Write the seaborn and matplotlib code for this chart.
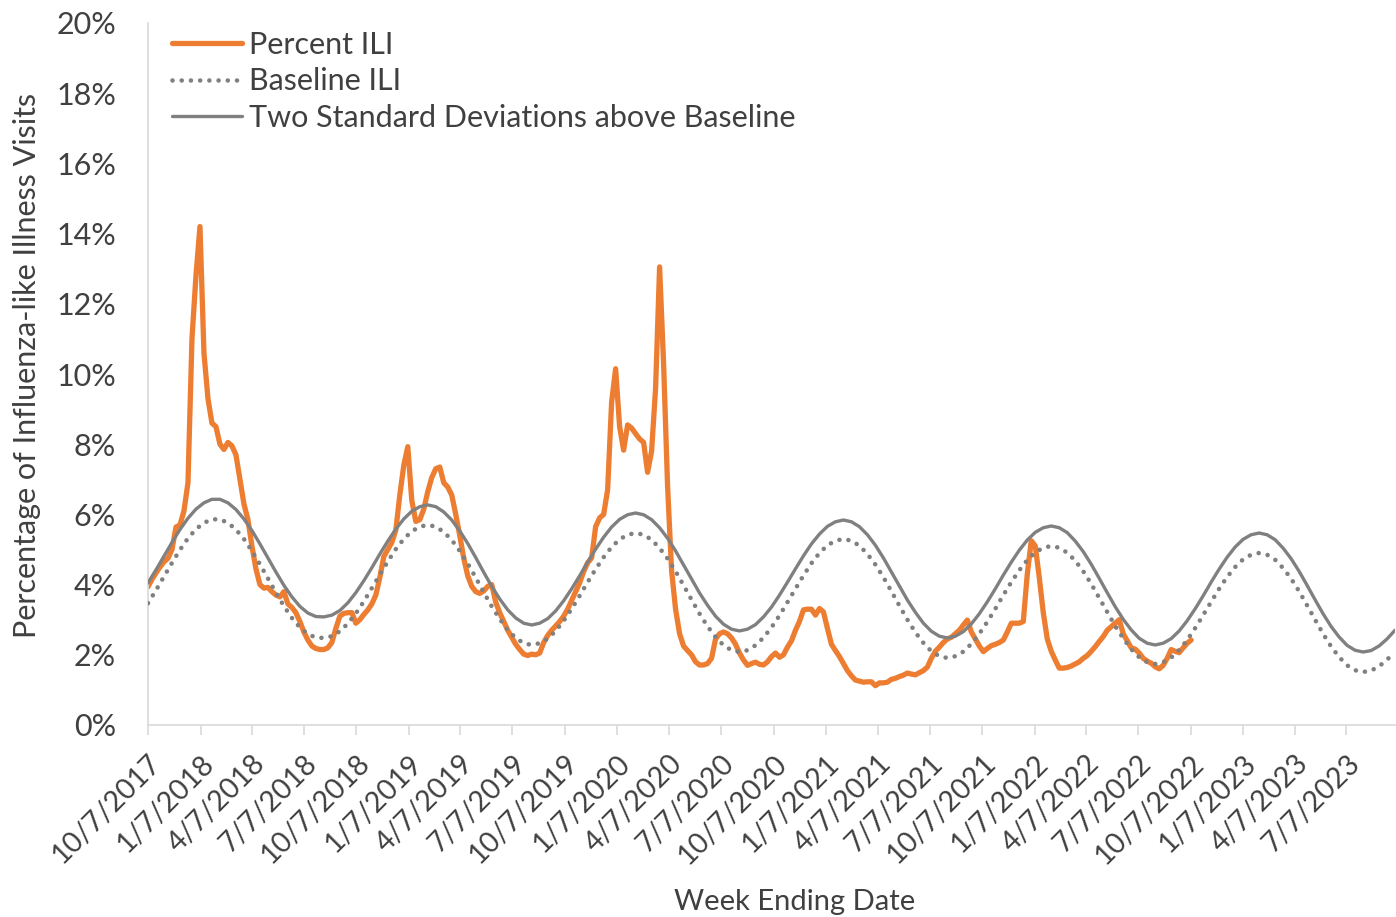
import matplotlib
matplotlib.use("Agg")
import matplotlib.pyplot as plt
import matplotlib.dates as mdates
import matplotlib.ticker as mticker
import pandas as pd
import seaborn as sns

# Weekly percent of visits for influenza-like illness (week ending dates from 10/7/2017)
percent_ili = [
    3.94, 4.15, 4.33, 4.50, 4.65, 4.75, 5.00, 5.64, 5.70, 6.10,
    6.90, 11.00, 12.80, 14.20, 10.60, 9.30, 8.60, 8.50, 8.00, 7.85,
    8.05, 7.95, 7.70, 7.00, 6.30, 5.85, 5.10, 4.45, 4.00, 3.90,
    3.92, 3.80, 3.70, 3.65, 3.80, 3.45, 3.35, 3.20, 2.95, 2.65,
    2.42, 2.25, 2.18, 2.15, 2.15, 2.20, 2.35, 2.75, 3.10, 3.18,
    3.20, 3.20, 2.90, 3.00, 3.15, 3.28, 3.45, 3.70, 4.20, 4.80,
    5.00, 5.20, 5.55, 6.55, 7.40, 7.93, 6.40, 5.80, 5.85, 6.15,
    6.65, 7.05, 7.30, 7.35, 6.90, 6.78, 6.55, 6.00, 5.40, 4.75,
    4.25, 3.95, 3.80, 3.75, 3.82, 3.95, 4.00, 3.50, 3.20, 2.95,
    2.70, 2.50, 2.30, 2.15, 2.02, 1.98, 2.02, 2.00, 2.05, 2.35,
    2.55, 2.70, 2.82, 2.95, 3.10, 3.30, 3.55, 3.80, 4.05, 4.37,
    4.62, 4.76, 5.65, 5.90, 6.00, 6.70, 9.20, 10.15, 8.50, 7.83,
    8.55, 8.46, 8.30, 8.15, 8.05, 7.20, 7.80, 9.60, 13.05, 10.30,
    6.80, 4.40, 3.30, 2.60, 2.25, 2.12, 2.00, 1.80, 1.71, 1.71,
    1.75, 1.90, 2.45, 2.60, 2.65, 2.60, 2.48, 2.30, 2.05, 1.85,
    1.70, 1.75, 1.79, 1.73, 1.71, 1.80, 1.95, 2.05, 1.93, 2.00,
    2.22, 2.40, 2.70, 2.95, 3.28, 3.30, 3.30, 3.13, 3.32, 3.22,
    2.75, 2.30, 2.12, 1.95, 1.75, 1.55, 1.40, 1.28, 1.25, 1.22,
    1.23, 1.23, 1.12, 1.20, 1.20, 1.22, 1.30, 1.33, 1.38, 1.42,
    1.48, 1.45, 1.43, 1.49, 1.55, 1.65, 1.90, 2.10, 2.22, 2.35,
    2.45, 2.50, 2.60, 2.70, 2.85, 2.99, 2.65, 2.45, 2.25, 2.09,
    2.18, 2.26, 2.30, 2.35, 2.42, 2.65, 2.90, 2.90, 2.90, 2.95,
    4.30, 5.25, 5.10, 4.20, 3.20, 2.45, 2.10, 1.85, 1.62, 1.62,
    1.64, 1.68, 1.74, 1.80, 1.90, 1.98, 2.10, 2.23, 2.38, 2.52,
    2.70, 2.80, 2.90, 3.00, 2.60, 2.40, 2.20, 2.16, 2.05, 1.90,
    1.82, 1.76, 1.66, 1.60, 1.70, 1.90, 2.15, 2.10, 2.06, 2.20,
    2.33, 2.42,
]

# Seasonal baseline, every second week from 10/7/2017 to 9/30/2023
baseline_ili = [
    3.47, 3.84, 4.23, 4.62, 4.99, 5.32, 5.58, 5.76, 5.86, 5.86,
    5.76, 5.57, 5.30, 4.96, 4.58, 4.18, 3.77, 3.39, 3.05, 2.78,
    2.59, 2.49, 2.48, 2.53, 2.67, 2.89, 3.18, 3.52, 3.90, 4.28,
    4.66, 5.01, 5.30, 5.52, 5.65, 5.70, 5.65, 5.50, 5.27, 4.96,
    4.60, 4.20, 3.78, 3.38, 3.02, 2.71, 2.48, 2.33, 2.28, 2.33,
    2.46, 2.68, 2.97, 3.31, 3.68, 4.07, 4.44, 4.78, 5.07, 5.29,
    5.42, 5.47, 5.42, 5.28, 5.04, 4.74, 4.38, 3.98, 3.57, 3.17,
    2.81, 2.51, 2.27, 2.13, 2.08, 2.13, 2.27, 2.49, 2.78, 3.12,
    3.50, 3.88, 4.26, 4.61, 4.90, 5.12, 5.25, 5.30, 5.25, 5.11,
    4.87, 4.57, 4.21, 3.81, 3.40, 3.00, 2.64, 2.34, 2.10, 1.96,
    1.91, 1.96, 2.09, 2.31, 2.60, 2.94, 3.31, 3.70, 4.07, 4.41,
    4.70, 4.92, 5.05, 5.10, 5.05, 4.91, 4.68, 4.38, 4.02, 3.62,
    3.22, 2.82, 2.47, 2.16, 1.93, 1.79, 1.74, 1.79, 1.92, 2.14,
    2.42, 2.76, 3.13, 3.51, 3.88, 4.22, 4.50, 4.72, 4.85, 4.90,
    4.85, 4.71, 4.47, 4.17, 3.81, 3.41, 3.00, 2.60, 2.24, 1.94,
    1.70, 1.56, 1.51, 1.55, 1.67, 1.86, 2.08,
]

# Epidemic threshold: two standard deviations above the baseline
two_sd_threshold = [
    4.05, 4.42, 4.81, 5.20, 5.57, 5.89, 6.15, 6.33, 6.43, 6.43,
    6.33, 6.14, 5.87, 5.54, 5.16, 4.76, 4.36, 3.98, 3.65, 3.38,
    3.19, 3.09, 3.08, 3.13, 3.26, 3.48, 3.77, 4.11, 4.48, 4.87,
    5.24, 5.58, 5.87, 6.09, 6.22, 6.27, 6.22, 6.07, 5.84, 5.53,
    5.17, 4.77, 4.35, 3.95, 3.59, 3.28, 3.05, 2.90, 2.85, 2.90,
    3.03, 3.25, 3.54, 3.88, 4.25, 4.64, 5.01, 5.35, 5.64, 5.86,
    5.99, 6.04, 5.99, 5.85, 5.62, 5.32, 4.96, 4.56, 4.16, 3.76,
    3.41, 3.10, 2.87, 2.73, 2.68, 2.73, 2.86, 3.08, 3.36, 3.70,
    4.07, 4.45, 4.82, 5.16, 5.44, 5.66, 5.79, 5.84, 5.79, 5.65,
    5.42, 5.12, 4.76, 4.36, 3.96, 3.56, 3.21, 2.90, 2.67, 2.53,
    2.48, 2.53, 2.66, 2.88, 3.17, 3.51, 3.88, 4.27, 4.64, 4.98,
    5.27, 5.49, 5.62, 5.67, 5.62, 5.48, 5.24, 4.94, 4.58, 4.18,
    3.77, 3.37, 3.01, 2.71, 2.47, 2.33, 2.28, 2.33, 2.46, 2.68,
    2.97, 3.31, 3.68, 4.07, 4.44, 4.78, 5.07, 5.29, 5.42, 5.47,
    5.42, 5.28, 5.04, 4.74, 4.38, 3.98, 3.57, 3.17, 2.81, 2.51,
    2.27, 2.13, 2.08, 2.12, 2.25, 2.45, 2.70,
]

y_ticks = list(range(0, 21, 2))
x_start, x_end = "2017-10-07", "2023-09-30"

ORANGE = "#ED7D31"
GRAY = "#808080"
TEXT = "#404040"
AXIS = "#D9D9D9"
FS = 22

ili_df = pd.DataFrame({
    "week": pd.date_range(x_start, periods=len(percent_ili), freq="7D"),
    "pct": percent_ili,
})
base_df = pd.DataFrame({
    "week": pd.date_range(x_start, periods=len(baseline_ili), freq="14D"),
    "baseline": baseline_ili,
    "threshold": two_sd_threshold,
})

sns.set_theme(style="white")
plt.rcParams["font.family"] = ["Lato", "DejaVu Sans"]

fig = plt.figure(figsize=(13.96, 9.17), dpi=100)
ax = fig.add_axes([148 / 1396, 1 - 725 / 917, (1395 - 148) / 1396, (725 - 23) / 917])

sns.lineplot(data=ili_df, x="week", y="pct", ax=ax, color=ORANGE, linewidth=3.8,
             label="Percent ILI", zorder=2, solid_capstyle="round", solid_joinstyle="round")
sns.lineplot(data=base_df, x="week", y="baseline", ax=ax, color=GRAY, linewidth=3.3,
             linestyle=(0, (0.01, 2.0)), dash_capstyle="round",
             label="Baseline ILI", zorder=3)
sns.lineplot(data=base_df, x="week", y="threshold", ax=ax, color=GRAY, linewidth=2.4,
             label="Two Standard Deviations above Baseline", zorder=4)

ax.set_xlim(pd.Timestamp(x_start), pd.Timestamp(x_end))
ax.set_ylim(0, 20)
ax.set_yticks(y_ticks)
ax.yaxis.set_major_formatter(mticker.FuncFormatter(lambda v, p: f"{v:.0f}%"))

ax.xaxis.set_major_locator(mdates.MonthLocator(bymonth=[1, 4, 7, 10], bymonthday=7))
ax.xaxis.set_major_formatter(mticker.FuncFormatter(
    lambda v, p: (lambda d: f"{d.month}/{d.day}/{d.year}")(mdates.num2date(v))))

for side in ("top", "right"):
    ax.spines[side].set_visible(False)
for side in ("left", "bottom"):
    ax.spines[side].set_color(AXIS)
    ax.spines[side].set_linewidth(1.2)

ax.tick_params(axis="y", length=0, pad=23, labelsize=FS, labelcolor=TEXT)
ax.tick_params(axis="x", bottom=True, direction="out", length=7, width=1.2, color=AXIS,
               pad=11, labelsize=20.5, labelcolor=TEXT)
for lbl in ax.get_xticklabels():
    lbl.set_rotation(45)
    lbl.set_ha("right")
    lbl.set_va("top")
    lbl.set_rotation_mode("anchor")

ax.set_xlabel("Week Ending Date", fontsize=21, color=TEXT)
ax.xaxis.set_label_coords((795 - 148) / 1247, (725 - 889) / 702)
ax.set_ylabel("Percentage of Influenza-like Illness Visits", fontsize=FS, color=TEXT)
ax.yaxis.set_label_coords(-(148 - 41) / 1247, (725 - 365) / 702)

leg = ax.legend(loc="upper left", bbox_to_anchor=(0.0096, 1.006), frameon=False,
                fontsize=FS, handlelength=2.3, handletextpad=0.23, labelspacing=0.27,
                borderaxespad=0)
for t in leg.get_texts():
    t.set_color(TEXT)

fig.savefig("out.png", dpi=100)
